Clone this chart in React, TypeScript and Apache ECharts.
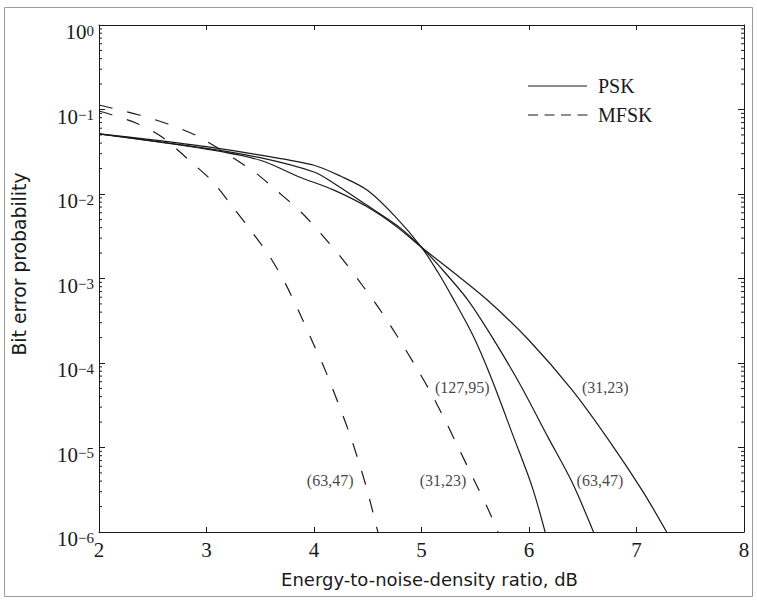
import React, { useEffect, useRef } from 'react';
import * as echarts from 'echarts';

// x: Eb/N0 in dB, y: bit error probability
const xTicks = [2, 3, 4, 5, 6, 7, 8];
const yDecades = [-6, -5, -4, -3, -2, -1, 0];

const psk127_95_dB = [2.0, 2.5, 3.0, 3.5, 4.0, 4.25, 4.5, 4.75, 5.0, 5.15, 5.29, 5.48, 5.64, 5.85, 6.03, 6.15];
const psk127_95_ber = [0.0515, 0.0437, 0.0363, 0.0288, 0.0219, 0.0162, 0.011, 0.0055, 0.00234, 0.0012, 5.9e-4, 2.1e-4, 7.1e-5, 1.4e-5, 3.4e-6, 1.0e-6];

const psk63_47_dB = [2.0, 3.0, 3.5, 4.0, 4.18, 4.49, 4.8, 5.0, 5.17, 5.43, 5.66, 5.92, 6.18, 6.4, 6.6];
const psk63_47_ber = [0.0515, 0.0347, 0.0269, 0.0182, 0.0135, 0.0074, 0.004, 0.00234, 0.00138, 5.6e-4, 2.0e-4, 5.5e-5, 1.3e-5, 3.9e-6, 1.0e-6];

const psk31_23_dB = [2.0, 3.0, 3.5, 3.87, 4.18, 4.49, 4.77, 5.0, 5.27, 5.61, 6.0, 6.4, 6.74, 7.06, 7.28];
const psk31_23_ber = [0.0513, 0.0339, 0.0251, 0.0158, 0.0112, 0.0071, 0.0041, 0.00234, 0.00126, 5.6e-4, 1.86e-4, 4.8e-5, 1.23e-5, 3.0e-6, 1.0e-6];

const mfsk63_47_dB = [2.0, 2.344, 2.586, 2.837, 3.051, 3.237, 3.423, 3.591, 3.74, 3.87, 3.991, 4.112, 4.223, 4.326, 4.419, 4.502, 4.577, 4.595];
const mfsk63_47_ber = [0.096, 0.0692, 0.0473, 0.0252, 0.01425, 0.00721, 0.00355, 0.0018, 8.4e-4, 3.8e-4, 1.73e-4, 7.8e-5, 3.4e-5, 1.52e-5, 6.6e-6, 2.9e-6, 1.21e-6, 1.0e-6];

const mfsk31_23_dB = [2.0, 2.372, 2.642, 2.93, 3.433, 3.656, 3.879, 4.084, 4.27, 4.456, 4.623, 4.791, 4.949, 5.088, 5.228, 5.358, 5.498, 5.619, 5.712];
const mfsk31_23_ber = [0.113, 0.0861, 0.0673, 0.0473, 0.0187, 0.01086, 0.00612, 0.00318, 0.00166, 8.1e-4, 4.1e-4, 1.92e-4, 8.97e-5, 4.42e-5, 2.0e-5, 9.1e-6, 3.9e-6, 1.87e-6, 1.0e-6];

// curve annotations (anchored in data coordinates)
const annText = ['(127,95)', '(31,23)', '(63,47)', '(31,23)', '(63,47)'];
const annDB = [5.38, 6.71, 6.66, 5.2, 4.15];
const annBER = [5.06e-5, 5.06e-5, 4.12e-6, 4.12e-6, 4.12e-6];

const legendNames = ['PSK', 'MFSK'];

const INK = '#1a1a1a';
const SERIF = '"Liberation Serif", "Times New Roman", serif';
const SANS = '"DejaVu Sans", sans-serif';

function zip(xs: number[], ys: number[]) {
  return xs.map((x, i) => [x, ys[i]]);
}

export default function App() {
  const ref = useRef<HTMLDivElement>(null);
  useEffect(() => {
    if (!ref.current) return;
    const chart = echarts.init(ref.current, null, { renderer: 'svg' });

    const minorTicks: number[][] = [];
    for (let e = -6; e < 0; e++) {
      for (let k = 2; k <= 9; k++) minorTicks.push([2, k * Math.pow(10, e)]);
    }

    const solid = { color: INK, width: 1.2, type: 'solid' as const };
    const dashed = { color: INK, width: 1.2, type: [14, 15] as any };
    const lineSeries = (name: string, xs: number[], ys: number[], ls: any) => ({
      type: 'line',
      name,
      data: zip(xs, ys),
      symbol: 'none',
      smooth: 0.3,
      lineStyle: ls,
      itemStyle: { color: INK },
      clip: true,
      z: 3,
    });

    const legendGraphic = [
      {
        type: 'line',
        shape: { x1: 528, y1: 86, x2: 587, y2: 86 },
        style: { stroke: INK, lineWidth: 1.2 },
        silent: true,
      },
      {
        type: 'text',
        x: 598,
        y: 86,
        style: { text: legendNames[0], fontFamily: SERIF, fontSize: 20, fill: INK, verticalAlign: 'middle', align: 'left' },
        silent: true,
      },
      {
        type: 'line',
        shape: { x1: 528, y1: 115, x2: 588, y2: 115 },
        style: { stroke: INK, lineWidth: 1.2, lineDash: [10, 6.5] },
        silent: true,
      },
      {
        type: 'text',
        x: 598,
        y: 115,
        style: { text: legendNames[1], fontFamily: SERIF, fontSize: 20, fill: INK, verticalAlign: 'middle', align: 'left' },
        silent: true,
      },
    ];

    const option: any = {
      animation: false,
      backgroundColor: '#fff',
      grid: { left: 99, top: 25, width: 645, height: 507, containLabel: false },
      legend: { show: false },
      graphic: [
        {
          type: 'rect',
          shape: { x: 4.5, y: 7.5, width: 748, height: 589 },
          style: { fill: 'none', stroke: '#9a9a9a', lineWidth: 1 },
          silent: true,
        },
        ...legendGraphic,
      ],
      xAxis: [
        {
          type: 'value',
          min: 2,
          max: 8,
          interval: 1,
          position: 'bottom',
          axisLine: { show: true, onZero: false, lineStyle: { color: INK, width: 1 } },
          axisTick: { show: true, inside: true, length: 5, lineStyle: { color: INK } },
          splitLine: { show: false },
          axisLabel: {
            show: true,
            margin: 7,
            fontFamily: SERIF,
            fontSize: 21,
            color: INK,
            formatter: (v: number) => (xTicks.includes(v) ? String(v) : ''),
          },
          name: 'Energy-to-noise-density ratio, dB',
          nameLocation: 'middle',
          nameGap: 38,
          nameTextStyle: { fontFamily: SANS, fontSize: 18, color: INK, padding: [0, 0, 0, 16] },
        },
        {
          type: 'value',
          min: 2,
          max: 8,
          interval: 1,
          position: 'top',
          axisLine: { show: true, onZero: false, lineStyle: { color: INK, width: 1 } },
          axisTick: { show: true, inside: true, length: 5, lineStyle: { color: INK } },
          splitLine: { show: false },
          axisLabel: { show: false },
        },
      ],
      yAxis: [
        {
          type: 'log',
          logBase: 10,
          min: 1e-6,
          max: 1,
          splitNumber: 6,
          position: 'left',
          axisLine: { show: true, onZero: false, lineStyle: { color: INK, width: 1 } },
          axisTick: { show: true, inside: true, length: 6, lineStyle: { color: INK } },
          splitLine: { show: false },
          axisLabel: {
            show: true,
            margin: 5,
            color: INK,
            formatter: (v: number) => {
              const e = Math.round(Math.log10(v));
              if (!yDecades.includes(e)) return '';
              const s = e < 0 ? '\u2212' + String(-e) : String(e);
              return '{b|10}{s|' + s + '}';
            },
            rich: {
              b: { fontFamily: SERIF, fontSize: 21, lineHeight: 20, padding: [14, 0, 0, 0], color: INK },
              s: { fontFamily: SERIF, fontSize: 15, lineHeight: 15, padding: [8, 0, 0, 0], verticalAlign: 'top', color: INK },
            },
          },
          name: 'Bit error probability',
          nameLocation: 'middle',
          nameGap: 70,
          nameTextStyle: { fontFamily: SANS, fontSize: 18.8, color: INK, padding: [0, 0, 0, 29] },
        },
        {
          type: 'log',
          logBase: 10,
          min: 1e-6,
          max: 1,
          splitNumber: 6,
          position: 'right',
          axisLine: { show: true, onZero: false, lineStyle: { color: INK, width: 1 } },
          axisTick: { show: true, inside: true, length: 6, lineStyle: { color: INK } },
          splitLine: { show: false },
          axisLabel: { show: false },
        },
      ],
      series: [
        lineSeries('PSK (127,95)', psk127_95_dB, psk127_95_ber, solid),
        lineSeries('PSK (63,47)', psk63_47_dB, psk63_47_ber, solid),
        lineSeries('PSK (31,23)', psk31_23_dB, psk31_23_ber, solid),
        lineSeries('MFSK (63,47)', mfsk63_47_dB, mfsk63_47_ber, dashed),
        lineSeries('MFSK (31,23)', mfsk31_23_dB, mfsk31_23_ber, dashed),
        {
          type: 'scatter',
          name: 'labels',
          data: annText.map((t, i) => [annDB[i], annBER[i], t]),
          symbolSize: 1,
          itemStyle: { color: 'rgba(0,0,0,0)' },
          label: {
            show: true,
            position: 'inside',
            formatter: (p: any) => p.data[2],
            fontFamily: SERIF,
            fontSize: 16,
            color: '#111',
          },
          silent: true,
          z: 4,
        },
        {
          type: 'custom',
          name: 'minorTicks',
          data: minorTicks,
          silent: true,
          clip: false,
          renderItem: (params: any, api: any) => {
            const v = api.value(1);
            const pl = api.coord([2, v]);
            const pr = api.coord([8, v]);
            return {
              type: 'group',
              children: [
                { type: 'line', shape: { x1: pl[0], y1: pl[1], x2: pl[0] + 3, y2: pl[1] }, style: { stroke: INK, lineWidth: 1 } },
                { type: 'line', shape: { x1: pr[0] - 3, y1: pr[1], x2: pr[0], y2: pr[1] }, style: { stroke: INK, lineWidth: 1 } },
              ],
            };
          },
        },
      ],
    };

    chart.setOption(option);
    return () => chart.dispose();
  }, []);

  return (
    <div
      ref={ref}
      style={{ position: 'fixed', left: 0, top: 0, width: 757, height: 601, background: '#fff' }}
    />
  );
}
